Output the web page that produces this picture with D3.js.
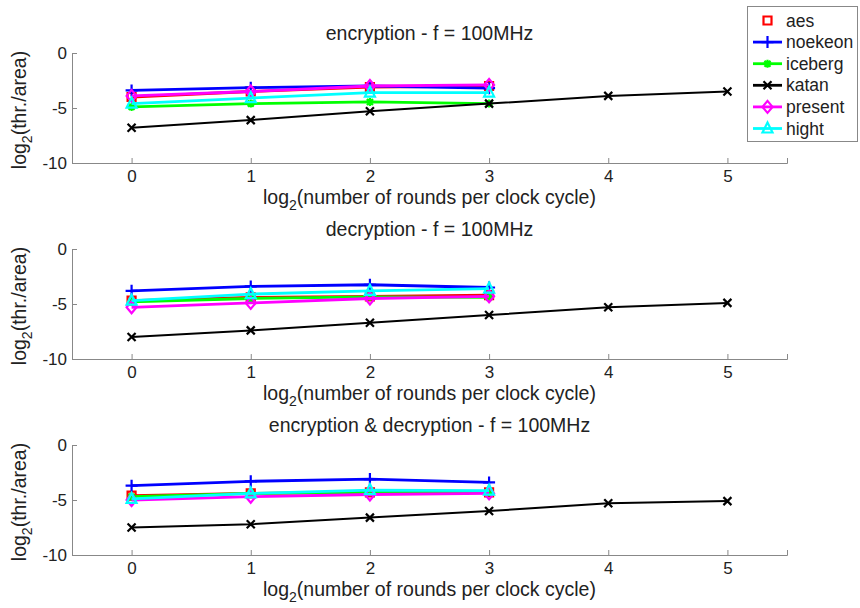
<!DOCTYPE html>
<html>
<head>
<meta charset="utf-8">
<script src="https://cdn.jsdelivr.net/npm/d3@7"></script>
<style>
  body { margin: 0; background: #fff; }
  text { font-family: "Liberation Sans", Arial, sans-serif; fill: #222; }
</style>
</head>
<body>
<div id="chart"></div>
<script>
// data
var rounds = [0, 1, 2, 3, 4, 5];
var ciphers = ["aes", "noekeon", "iceberg", "katan", "present", "hight"];
var colors = ["#ff0000", "#0000ff", "#00ff00", "#000000", "#ff00ff", "#00ffff"];
var markers = ["square", "plus", "star", "cross", "diamond", "triangle"];

var panelTitles = [
  "encryption - f = 100MHz",
  "decryption - f = 100MHz",
  "encryption & decryption - f = 100MHz"
];

// encryption
var encAes = [-4.0, -3.5, -3.1, -3.0];
var encNoekeon = [-3.4, -3.15, -3.0, -3.2];
var encIceberg = [-4.9, -4.6, -4.45, -4.6];
var encKatan = [-6.8, -6.1, -5.3, -4.6, -3.9, -3.5];
var encPresent = [-3.9, -3.5, -3.0, -2.9];
var encHight = [-4.6, -4.1, -3.6, -3.6];

// decryption
var decAes = [-4.7, -4.4, -4.3, -4.2];
var decNoekeon = [-3.8, -3.4, -3.25, -3.5];
var decIceberg = [-4.8, -4.5, -4.35, -4.4];
var decKatan = [-8.0, -7.4, -6.7, -6.0, -5.3, -4.9];
var decPresent = [-5.3, -4.9, -4.5, -4.3];
var decHight = [-4.7, -4.1, -3.8, -3.6];

// encryption & decryption
var bothAes = [-4.6, -4.4, -4.3, -4.3];
var bothNoekeon = [-3.7, -3.3, -3.1, -3.4];
var bothIceberg = [-4.7, -4.4, -4.3, -4.3];
var bothKatan = [-7.5, -7.2, -6.6, -6.0, -5.3, -5.1];
var bothPresent = [-5.0, -4.7, -4.5, -4.4];
var bothHight = [-4.9, -4.4, -4.1, -4.15];

var panelData = [
  [encAes, encNoekeon, encIceberg, encKatan, encPresent, encHight],
  [decAes, decNoekeon, decIceberg, decKatan, decPresent, decHight],
  [bothAes, bothNoekeon, bothIceberg, bothKatan, bothPresent, bothHight]
];

var yTicks = [0, -5, -10];

var width = 860, height = 608;
var axLeft = 72, axRight = 787;
var panelTop = [53, 249, 445];
var panelH = 110;

var svg = d3.select("#chart").append("svg")
  .attr("width", width)
  .attr("height", height);

var x = d3.scaleLinear().domain([-0.5, 5.5]).range([axLeft, axRight]);

// marker path for a given symbol type
function markerPath(kind) {
  if (kind === "square") return "M-4,-4H4V4H-4Z";
  if (kind === "plus") return "M-6,0H6M0,-6V6";
  if (kind === "cross") return "M-4,-4L4,4M-4,4L4,-4";
  if (kind === "star") return "M-4,0H4M0,-4V4M-3,-3L3,3M-3,3L3,-3";
  if (kind === "diamond") return "M0,-6L5,0L0,6L-5,0Z";
  if (kind === "triangle") return "M0,-6L5,4H-5Z";
}

panelData.forEach(function(series, p) {
  var top = panelTop[p];
  var y = d3.scaleLinear().domain([-10, 0]).range([top + panelH, top]);
  var g = svg.append("g");

  // axes (MATLAB style, ticks inside)
  var xAxis = d3.axisBottom(x).tickValues(rounds).tickSize(-5).tickPadding(7)
    .tickFormat(d3.format("d"));
  var yAxis = d3.axisLeft(y).tickValues(yTicks).tickSize(-5).tickPadding(5)
    .tickFormat(function(d) { return d === 0 ? "0" : "-" + Math.abs(d); });

  var gx = g.append("g")
    .attr("transform", "translate(0," + (top + panelH) + ")")
    .call(xAxis);
  var gy = g.append("g")
    .attr("transform", "translate(" + axLeft + ",0)")
    .call(yAxis);
  [gx, gy].forEach(function(a) {
    a.select(".domain").attr("stroke", "#888").attr("stroke-width", 1);
    a.selectAll(".tick line").attr("stroke", "#888");
    a.selectAll(".tick text").style("font-size", "17px")
      .style("font-family", "'Liberation Sans', Arial, sans-serif").attr("fill", "#222");
  });

  // title
  g.append("text")
    .attr("x", (axLeft + axRight) / 2)
    .attr("y", top - 13)
    .attr("text-anchor", "middle")
    .style("font-size", "19.5px")
    .text(panelTitles[p]);

  // x label
  var xl = g.append("text")
    .attr("x", (axLeft + axRight) / 2)
    .attr("y", top + panelH + 41)
    .attr("text-anchor", "middle")
    .style("font-size", "19.5px");
  xl.append("tspan").text("log");
  xl.append("tspan").attr("dy", 6).style("font-size", "14px").text("2");
  xl.append("tspan").attr("dy", -6).text("(number of rounds per clock cycle)");

  // y label
  var yl = g.append("text")
    .attr("transform", "translate(26," + (top + panelH / 2 + 2) + ") rotate(-90)")
    .attr("text-anchor", "middle")
    .style("font-size", "19.5px");
  yl.append("tspan").text("log");
  yl.append("tspan").attr("dy", 6).style("font-size", "14px").text("2");
  yl.append("tspan").attr("dy", -6).text("(thr./area)");

  var line = d3.line()
    .x(function(d, i) { return x(rounds[i]); })
    .y(function(d) { return y(d); });

  series.forEach(function(vals, s) {
    g.append("path")
      .datum(vals)
      .attr("d", line)
      .attr("fill", "none")
      .attr("stroke", colors[s])
      .attr("stroke-width", s === 3 ? 2 : 2.8);
    g.selectAll(null)
      .data(vals)
      .enter()
      .append("path")
      .attr("d", markerPath(markers[s]))
      .attr("transform", function(d, i) {
        return "translate(" + x(rounds[i]) + "," + y(d) + ")";
      })
      .attr("fill", "none")
      .attr("stroke", colors[s])
      .attr("stroke-width", 2.2);
  });
});

// legend
var lg = svg.append("g");
lg.append("rect")
  .attr("x", 747.5).attr("y", 6.5)
  .attr("width", 110).attr("height", 135)
  .attr("fill", "#fff").attr("stroke", "#888");

ciphers.forEach(function(name, s) {
  var ly = 20.5 + s * 21.6;
  if (s > 0) {
    lg.append("line")
      .attr("x1", 753).attr("x2", 782)
      .attr("y1", ly).attr("y2", ly)
      .attr("stroke", colors[s]).attr("stroke-width", 2.8);
  }
  lg.append("path")
    .attr("d", markerPath(markers[s]))
    .attr("transform", "translate(767.5," + ly + ")")
    .attr("fill", "none")
    .attr("stroke", colors[s])
    .attr("stroke-width", 2.2);
  lg.append("text")
    .attr("x", 786)
    .attr("y", ly + 6)
    .style("font-size", "17.5px")
    .text(name);
});
</script>
</body>
</html>
